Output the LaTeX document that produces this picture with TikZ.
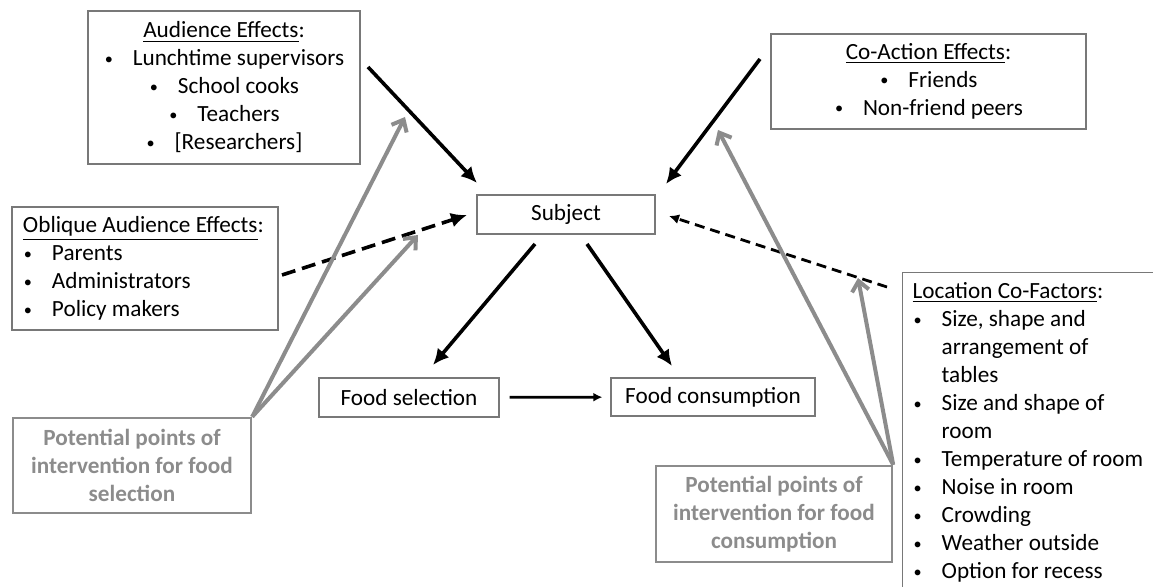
\documentclass[tikz,border=0pt]{standalone}
\usepackage{fontspec}
\setmainfont{Carlito}
\usetikzlibrary{arrows.meta}

\definecolor{boxgray}{RGB}{120,120,120}
\definecolor{pointgray}{RGB}{140,140,140}
\newcommand{\diagfont}{\fontsize{11.6pt}{14pt}\selectfont}
\newcommand{\bul}{\makebox[14.5pt][l]{\hspace{0.5pt}\raisebox{0.15ex}{\scalebox{0.7}{\textbullet}}}}
\newcommand{\hang}{\hspace*{14.5pt}}

\tikzset{
  every node/.style={font=\diagfont},
  infobox/.style={draw=boxgray,line width=0.7pt,inner sep=0pt,align=center},
  pointbox/.style={draw=pointgray,line width=1.2pt,inner sep=0pt,align=center,
    text=pointgray,font=\diagfont\bfseries},
  bigarrow/.style={line width=1.8pt,-{Latex[length=8pt,width=7.5pt]}},
  thinarrow/.style={line width=1.4pt,-{Latex[length=5pt,width=5pt]}},
  grayarrow/.style={draw=pointgray,line width=2pt,-{Straight Barb[length=5pt,width=8.5pt]}}
}

\begin{document}
\begin{tikzpicture}[x=0.5pt,y=-0.5pt]
\useasboundingbox (0,0) rectangle (1153,587);
\clip (0,0) rectangle (1153,587);

% boxes
\node[infobox,minimum width=136pt,minimum height=76.5pt] (aud) at (224,87.5)
  {\underline{Audience Effects}:\\ \bul Lunchtime supervisors\\ \bul School cooks\\ \bul Teachers\\ \bul [Researchers]};
\node[infobox,text width=122pt,inner xsep=5.5pt,minimum height=61.5pt,align=flush left] (obl) at (145,268.5)
  {\underline{Oblique Audience Effects}:\\ \bul Parents\\ \bul Administrators\\ \bul Policy makers};
\node[infobox,minimum width=157.5pt,minimum height=47.5pt] (coact) at (928.5,81.5)
  {\underline{Co-Action Effects}:\\ \bul Friends\\ \bul Non-friend peers};
\node[infobox,minimum width=89pt,minimum height=19.5pt] (subj) at (566,214.5) {Subject};
\node[infobox,minimum width=90pt,minimum height=19.5pt] (sel) at (409,397.5) {Food selection};
\node[infobox,minimum width=102pt,minimum height=19pt] (cons) at (713,397) {Food consumption};
\node[pointbox,minimum width=119pt,minimum height=47.5pt] (selpot) at (132,465.5)
  {Potential points of\\ intervention for food\\ selection};
\node[pointbox,minimum width=118pt,minimum height=48pt] (conspot) at (774,514)
  {Potential points of\\ intervention for food\\ consumption};
\node[infobox,anchor=north west,text width=125pt,inner xsep=5pt,inner ysep=5pt,align=flush left] (loc) at (902,272)
  {\underline{Location Co-Factors}:\\ \bul Size, shape and\\ \hang arrangement of\\ \hang tables\\
   \bul Size and shape of\\ \hang room\\ \bul Temperature of room\\ \bul Noise in room\\
   \bul Crowding\\ \bul Weather outside\\ \bul Option for recess\\ \mbox{}};

% free ends of the arrows
\coordinate (audout) at (368,67);   \coordinate (audin) at (477,183);
\coordinate (coout) at (760,59);    \coordinate (coin) at (666,184);
\coordinate (oblout) at (282,275);  \coordinate (oblin) at (467,215);
\coordinate (locout) at (887,287);  \coordinate (locin) at (669,216);
\coordinate (subjl) at (535,244);   \coordinate (selin) at (433,365);
\coordinate (subjr) at (587,244);   \coordinate (consin) at (672,366);
\coordinate (selpta) at (405,117);  \coordinate (selptb) at (418,235);
\coordinate (conspta) at (718,130); \coordinate (consptb) at (858,278);

% influences on the subject
\draw[bigarrow] (audout) -- (audin);
\draw[bigarrow] (coout) -- (coin);
\draw[bigarrow,dash pattern=on 7pt off 3.5pt] (oblout) -- (oblin);
\draw[thinarrow,dash pattern=on 5pt off 3pt] (locout) -- (locin);

% subject to food
\draw[bigarrow] (subjl) -- (selin);
\draw[bigarrow] (subjr) -- (consin);
\draw[line width=1.4pt,-{Latex[length=4.5pt,width=4.5pt]},shorten <=5pt,shorten >=4pt] (sel) -- (cons);

% points of intervention
\draw[grayarrow] (selpot.north east) -- (selpta);
\draw[grayarrow] (selpot.north east) -- (selptb);
\draw[grayarrow] (conspot.north east) -- (conspta);
\draw[grayarrow] (conspot.north east) -- (consptb);
\end{tikzpicture}
\end{document}
